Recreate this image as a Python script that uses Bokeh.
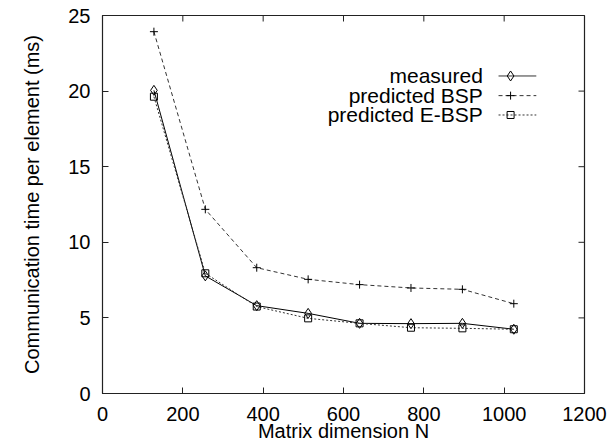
from bokeh.plotting import figure
from bokeh.models import Range1d, FixedTicker, Label
from bokeh.embed import file_html
from bokeh.resources import INLINE

# ---- data ----
N = [128, 256, 384, 512, 640, 768, 896, 1024]
measured = [20.05, 7.78, 5.81, 5.30, 4.64, 4.62, 4.64, 4.25]
predicted_bsp = [23.93, 12.18, 8.32, 7.55, 7.20, 6.98, 6.89, 5.94]
predicted_ebsp = [19.63, 7.95, 5.75, 4.97, 4.64, 4.35, 4.31, 4.25]
x_ticks = [0, 200, 400, 600, 800, 1000, 1200]
y_ticks = [0, 5, 10, 15, 20, 25]
series_names = ["measured", "predicted BSP", "predicted E-BSP"]

FONT = "Liberation Sans"
X_MIN, X_MAX, Y_MIN, Y_MAX = 0, 1200, 0, 25

p = figure(width=608, height=447, output_backend="svg", toolbar_location=None,
           x_range=Range1d(X_MIN, X_MAX), y_range=Range1d(Y_MIN, Y_MAX),
           min_border_left=102, min_border_right=24, min_border_top=15,
           min_border_bottom=54)
p.background_fill_color = "white"
p.border_fill_color = "white"
p.outline_line_color = "#222222"
p.outline_line_width = 1.2
p.grid.visible = False

for ax in (p.xaxis[0], p.yaxis[0]):
    ax.major_label_text_font = FONT
    ax.major_label_text_font_size = "20px"
    ax.major_label_text_color = "black"
    ax.axis_label_text_font = FONT
    ax.axis_label_text_font_size = "20px"
    ax.axis_label_text_font_style = "normal"
    ax.axis_label_text_color = "black"
    ax.major_tick_in = 6
    ax.major_tick_out = 0
    ax.minor_tick_line_color = None
    ax.axis_line_color = "#222222"
    ax.major_tick_line_color = "#222222"

p.xaxis[0].ticker = FixedTicker(ticks=x_ticks)
p.yaxis[0].ticker = FixedTicker(ticks=y_ticks)
p.xaxis[0].axis_label = "Matrix dimension N"
p.yaxis[0].axis_label = "Communication time per element (ms)"
p.xaxis[0].major_label_standoff = 13
p.xaxis[0].axis_label_standoff = -4
p.yaxis[0].major_label_standoff = 12
p.yaxis[0].axis_label_standoff = 22

# mirror ticks on top and right edges (6 px long, converted to data units)
frame_w = 608 - 102 - 24
frame_h = 447 - 15 - 54
tick_dy = 6 * (Y_MAX - Y_MIN) / frame_h
tick_dx = 6 * (X_MAX - X_MIN) / frame_w
p.segment(x0=x_ticks, y0=[Y_MAX] * len(x_ticks), x1=x_ticks,
          y1=[Y_MAX - tick_dy] * len(x_ticks), line_color="#222222", line_width=1)
p.segment(x0=[X_MAX] * len(y_ticks), y0=y_ticks,
          x1=[X_MAX - tick_dx] * len(y_ticks), y1=y_ticks,
          line_color="#222222", line_width=1)

# series
p.line(N, measured, line_color="black", line_width=1)
p.scatter(N, measured, marker="diamond", size=10, fill_color=None,
          line_color="black", line_width=1)

p.line(N, predicted_bsp, line_color="#333333", line_width=1, line_dash="4 3")
p.scatter(N, predicted_bsp, marker="cross", size=8, line_color="black",
          line_width=1)

p.line(N, predicted_ebsp, line_color="#333333", line_width=1, line_dash="2 2")
p.scatter(N, predicted_ebsp, marker="square", size=7, fill_color=None,
          line_color="black", line_width=1)

# legend (layout positions in data space)
LEG_TEXT_X = 947
LEG_X0, LEG_X1, LEG_MX = 986, 1080, 1016
LEG_Y = [21.0, 19.7, 18.42]
styles = [
    dict(dash="solid", marker="diamond", size=10),
    dict(dash="4 3", marker="cross", size=8),
    dict(dash="2 2", marker="square", size=7),
]
for name, yy, st in zip(series_names, LEG_Y, styles):
    p.add_layout(Label(x=LEG_TEXT_X, y=yy, text=name, text_align="right",
                       text_baseline="middle", text_font=FONT,
                       text_font_size="21px", text_color="black"))
    p.line([LEG_X0, LEG_X1], [yy, yy], line_color="#333333", line_width=1,
           line_dash=st["dash"])
    p.scatter([LEG_MX], [yy], marker=st["marker"], size=st["size"],
              fill_color=None, line_color="black", line_width=1)

open("out.html", "w").write(file_html(p, INLINE))
